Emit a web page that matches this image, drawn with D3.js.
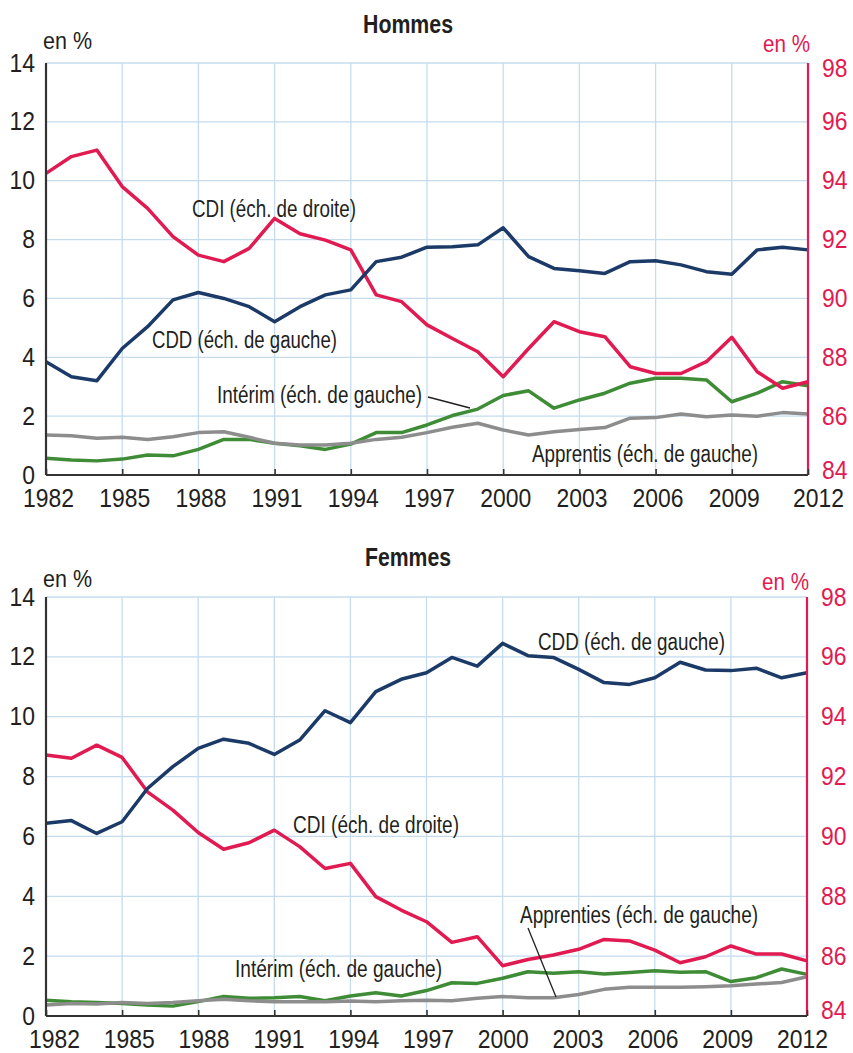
<!DOCTYPE html>
<html lang="fr">
<head>
    <meta charset="UTF-8">
    <title>CDD, CDI, intérim et apprentis - hommes et femmes</title>
    <script src="https://d3js.org/d3.v7.min.js"></script>
    <style>
        body {
            margin: 0;
            background-color: white;
            font-family: "Liberation Sans", Arial, sans-serif;
        }
        .grid line {
            stroke: #c4dcee;
            stroke-width: 1.3;
        }
        .series {
            fill: none;
            stroke-linejoin: round;
            stroke-width: 3.5;
        }
        .label {
            font-size: 23px;
            fill: #231f20;
        }
    </style>
</head>
<body>
    <div id="chart"></div>

    <script>
        // Years and tick values
        const years = d3.range(1982, 2013);
        const yearTicks = [1982, 1985, 1988, 1991, 1994, 1997, 2000, 2003, 2006, 2009, 2012];
        const leftTicks = [0, 2, 4, 6, 8, 10, 12, 14];
        const rightTicks = [84, 86, 88, 90, 92, 94, 96, 98];

        // Hommes (values in %)
        const hommesCDI = [94.25, 94.82, 95.04, 93.8, 93.06, 92.1, 91.47, 91.25, 91.7, 92.72, 92.2,
            91.98, 91.65, 90.12, 89.89, 89.1, 88.64, 88.19, 87.34, 88.3, 89.21,
            88.87, 88.7, 87.68, 87.45, 87.45, 87.85, 88.68, 87.51, 86.95, 87.17];
        const hommesCDD = [3.85, 3.34, 3.2, 4.3, 5.04, 5.95, 6.2, 6.0, 5.72, 5.21, 5.72,
            6.12, 6.29, 7.25, 7.4, 7.74, 7.76, 7.82, 8.4, 7.42, 7.02,
            6.94, 6.85, 7.25, 7.28, 7.14, 6.91, 6.82, 7.65, 7.74, 7.65];
        const hommesInterim = [0.57, 0.51, 0.48, 0.54, 0.68, 0.65, 0.87, 1.21, 1.21, 1.08, 0.99,
            0.87, 1.05, 1.44, 1.44, 1.7, 2.02, 2.24, 2.7, 2.86, 2.27,
            2.55, 2.78, 3.12, 3.29, 3.29, 3.23, 2.49, 2.78, 3.17, 3.03];
        const hommesApprentis = [1.36, 1.33, 1.25, 1.28, 1.21, 1.3, 1.44, 1.47, 1.28, 1.08, 1.02,
            1.02, 1.08, 1.21, 1.28, 1.44, 1.62, 1.76, 1.53, 1.36, 1.47,
            1.55, 1.61, 1.93, 1.95, 2.07, 1.98, 2.04, 2.0, 2.12, 2.07];

        // Femmes
        const femmesCDI = [92.72, 92.61, 93.05, 92.64, 91.49, 90.88, 90.13, 89.57, 89.79, 90.21, 89.66,
            88.93, 89.1, 87.99, 87.54, 87.15, 86.46, 86.65, 85.68, 85.89, 86.04,
            86.23, 86.56, 86.51, 86.2, 85.78, 85.98, 86.34, 86.07, 86.07, 85.84];
        const femmesCDD = [6.44, 6.53, 6.1, 6.49, 7.6, 8.33, 8.94, 9.25, 9.11, 8.74, 9.22,
            10.2, 9.8, 10.84, 11.25, 11.47, 11.98, 11.69, 12.45, 12.04, 11.98,
            11.58, 11.14, 11.08, 11.3, 11.82, 11.56, 11.54, 11.62, 11.3, 11.47];
        const femmesInterim = [0.53, 0.48, 0.45, 0.42, 0.37, 0.33, 0.48, 0.65, 0.59, 0.61, 0.65,
            0.51, 0.67, 0.78, 0.67, 0.85, 1.11, 1.09, 1.26, 1.48, 1.43,
            1.48, 1.4, 1.45, 1.51, 1.46, 1.48, 1.15, 1.28, 1.57, 1.39];
        const femmesApprenties = [0.37, 0.42, 0.4, 0.45, 0.42, 0.45, 0.51, 0.56, 0.51, 0.48, 0.48,
            0.48, 0.5, 0.48, 0.51, 0.53, 0.51, 0.59, 0.65, 0.61, 0.61,
            0.72, 0.89, 0.96, 0.96, 0.96, 0.98, 1.01, 1.07, 1.12, 1.31];

        const colors = {
            cdi: "#e11b51",
            cdd: "#1c3a68",
            interim: "#3f8c36",
            apprentis: "#8d8d8d",
            text: "#231f20",
            axis: "#333333"
        };

        const width = 853;
        const height = 1053;
        const digitWidth = 12.75;   // condensed look: squeeze Liberation Sans digits

        const svg = d3.select("#chart")
            .append("svg")
            .attr("width", width)
            .attr("height", height);

        const panels = [
            {
                title: "Hommes", titleY: 33, titleW: 90,
                x0: 46, x1: 808, top: 63, bottom: 475,
                enLeftY: 49, enRightY: 52,
                labelRange: [48, 810], lastLabelShift: 8,
                rightNudge: { 98: 5, 84: -5 },
                cdi: hommesCDI, cdd: hommesCDD, interim: hommesInterim, apprentis: hommesApprentis,
                labels: [
                    { text: "CDI (éch. de droite)", x: 192, y: 217, w: 164 },
                    { text: "CDD (éch. de gauche)", x: 152, y: 348, w: 185 },
                    { text: "Intérim (éch. de gauche)", x: 217, y: 403, w: 205 },
                    { text: "Apprentis (éch. de gauche)", x: 532, y: 462, w: 226 }
                ],
                leader: [[428, 397], [470, 408]]
            },
            {
                title: "Femmes", titleY: 566, titleW: 86,
                x0: 46, x1: 807, top: 597, bottom: 1016,
                enLeftY: 587, enRightY: 590,
                labelRange: [54, 802], lastLabelShift: 0,
                rightNudge: { 84: -6 },
                cdi: femmesCDI, cdd: femmesCDD, interim: femmesInterim, apprentis: femmesApprenties,
                labels: [
                    { text: "CDD (éch. de gauche)", x: 538, y: 650, w: 187 },
                    { text: "CDI (éch. de droite)", x: 293, y: 833, w: 166 },
                    { text: "Intérim (éch. de gauche)", x: 235, y: 977, w: 207 },
                    { text: "Apprenties (éch. de gauche)", x: 520, y: 923, w: 238 }
                ],
                leader: [[528, 928], [556, 997]]
            }
        ];

        panels.forEach(drawPanel);

        function squeezeDigits(sel) {
            sel.attr("textLength", function() { return this.textContent.length * digitWidth; })
                .attr("lengthAdjust", "spacingAndGlyphs");
        }

        function drawPanel(p) {
            const g = svg.append("g");

            const x = d3.scaleLinear().domain([1982, 2012]).range([p.x0, p.x1]);
            const xLabel = d3.scaleLinear().domain([1982, 2012]).range(p.labelRange);
            const yL = d3.scaleLinear().domain([0, 14]).range([p.bottom, p.top]);
            const yR = d3.scaleLinear().domain([84, 98]).range([p.bottom, p.top]);

            // Title
            g.append("text")
                .attr("x", 408)
                .attr("y", p.titleY)
                .attr("text-anchor", "middle")
                .attr("textLength", p.titleW)
                .attr("lengthAdjust", "spacingAndGlyphs")
                .style("font-size", "26px")
                .style("font-weight", "bold")
                .style("fill", colors.text)
                .text(p.title);

            // Grid lines
            const grid = g.append("g").attr("class", "grid");
            grid.selectAll(".h")
                .data(leftTicks)
                .enter()
                .append("line")
                .attr("x1", p.x0)
                .attr("x2", p.x1)
                .attr("y1", d => yL(d))
                .attr("y2", d => yL(d));
            grid.selectAll(".v")
                .data(yearTicks)
                .enter()
                .append("line")
                .attr("x1", d => x(d))
                .attr("x2", d => x(d))
                .attr("y1", p.top)
                .attr("y2", p.bottom);

            // Series
            const line = yScale => d3.line()
                .x((d, i) => x(years[i]))
                .y(d => yScale(d));

            const series = [
                { data: p.interim, scale: yL, color: colors.interim },
                { data: p.apprentis, scale: yL, color: colors.apprentis },
                { data: p.cdi, scale: yR, color: colors.cdi },
                { data: p.cdd, scale: yL, color: colors.cdd }
            ];
            series.forEach(s => {
                g.append("path")
                    .datum(s.data)
                    .attr("class", "series")
                    .attr("stroke", s.color)
                    .attr("d", line(s.scale));
            });

            // Left axis
            g.append("line")
                .attr("x1", p.x0).attr("x2", p.x0)
                .attr("y1", p.top).attr("y2", p.bottom)
                .attr("stroke", colors.axis)
                .attr("stroke-width", 2.2);
            const leftAxis = g.append("g")
                .attr("transform", `translate(${p.x0},0)`)
                .call(d3.axisLeft(yL).tickValues(leftTicks).tickSize(0).tickPadding(11));
            leftAxis.select(".domain").remove();
            leftAxis.selectAll("text")
                .style("font-size", "25px")
                .style("font-family", "inherit")
                .style("fill", colors.text)
                .call(squeezeDigits);

            // Right axis
            g.append("line")
                .attr("x1", p.x1).attr("x2", p.x1)
                .attr("y1", p.top).attr("y2", p.bottom)
                .attr("stroke", colors.cdi)
                .attr("stroke-width", 2.2);
            const rightAxis = g.append("g")
                .attr("transform", `translate(${p.x1},0)`)
                .call(d3.axisRight(yR).tickValues(rightTicks).tickSize(0).tickPadding(14));
            rightAxis.select(".domain").remove();
            rightAxis.selectAll("text")
                .attr("y", d => p.rightNudge[d] || 0)
                .style("font-size", "25px")
                .style("font-family", "inherit")
                .style("fill", colors.cdi)
                .call(squeezeDigits);

            // Bottom axis: line with short inner ticks
            const tickMarks = g.append("g")
                .attr("transform", `translate(0,${p.bottom})`)
                .call(d3.axisTop(x).tickValues(yearTicks).tickSize(6).tickFormat(""));
            tickMarks.select(".domain").remove();
            tickMarks.selectAll("line")
                .attr("stroke", colors.axis)
                .attr("stroke-width", 1.6);
            g.append("line")
                .attr("x1", p.x0).attr("x2", p.x1)
                .attr("y1", p.bottom).attr("y2", p.bottom)
                .attr("stroke", colors.axis)
                .attr("stroke-width", 2.2);

            const bottomAxis = g.append("g")
                .attr("transform", `translate(0,${p.bottom})`)
                .call(d3.axisBottom(xLabel).tickValues(yearTicks).tickFormat(d3.format("d")).tickSize(0).tickPadding(14));
            bottomAxis.select(".domain").remove();
            bottomAxis.selectAll("text")
                .attr("x", d => d === 2012 ? p.lastLabelShift : 0)
                .style("font-size", "25px")
                .style("font-family", "inherit")
                .style("fill", colors.text)
                .call(squeezeDigits);

            // Units
            g.append("text")
                .attr("x", 43)
                .attr("y", p.enLeftY)
                .attr("textLength", 49)
                .attr("lengthAdjust", "spacingAndGlyphs")
                .style("font-size", "23px")
                .style("fill", colors.text)
                .text("en %");
            g.append("text")
                .attr("x", p.x1 + 2)
                .attr("y", p.enRightY)
                .attr("text-anchor", "end")
                .attr("textLength", 47)
                .attr("lengthAdjust", "spacingAndGlyphs")
                .style("font-size", "23px")
                .style("fill", colors.cdi)
                .text("en %");

            // Series labels
            g.selectAll(".label")
                .data(p.labels)
                .enter()
                .append("text")
                .attr("class", "label")
                .attr("x", d => d.x)
                .attr("y", d => d.y)
                .attr("textLength", d => d.w)
                .attr("lengthAdjust", "spacingAndGlyphs")
                .text(d => d.text);

            // Leader line
            g.append("line")
                .attr("x1", p.leader[0][0]).attr("y1", p.leader[0][1])
                .attr("x2", p.leader[1][0]).attr("y2", p.leader[1][1])
                .attr("stroke", colors.text)
                .attr("stroke-width", 1.3);
        }
    </script>
</body>
</html>
